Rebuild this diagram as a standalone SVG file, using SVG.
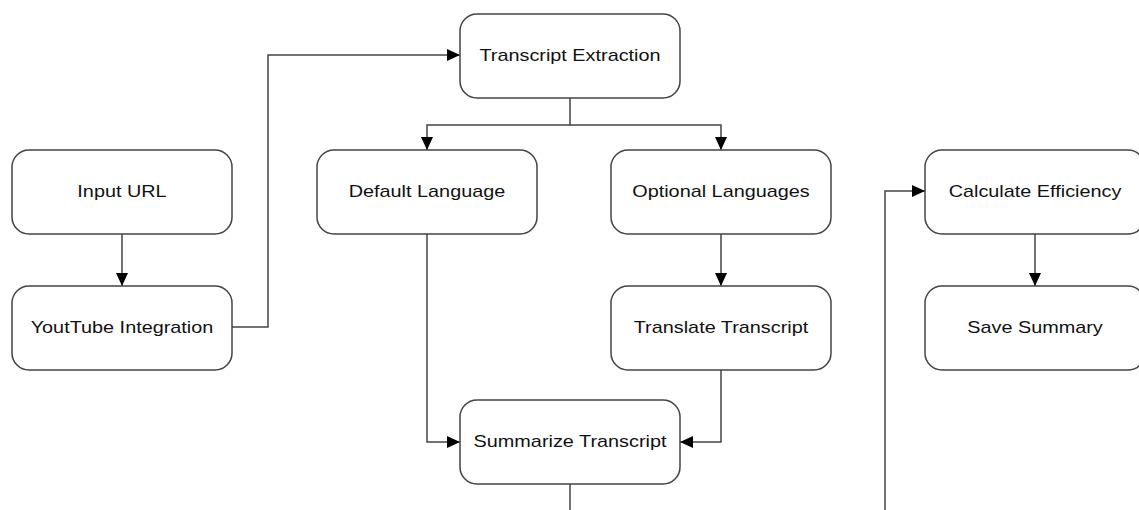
<svg xmlns="http://www.w3.org/2000/svg" width="1139" height="510" viewBox="0 0 1139 510">
<defs>
<style>
.node rect{fill:#ffffff;stroke:#444444;stroke-width:1.5}
.node text{font-family:"Liberation Sans",Arial,sans-serif;font-size:16px;fill:#111111;text-anchor:middle}
.edges path{fill:none;stroke:#444444;stroke-width:1.5}
</style>
<marker id="arr" viewBox="0 0 13 12" refX="13" refY="6" markerWidth="13" markerHeight="12" markerUnits="userSpaceOnUse" orient="auto">
<path d="M0,0 L13,6 L0,12 Z" fill="#000000"/>
</marker>
</defs>
<rect width="1139" height="510" fill="#ffffff"/>
<g class="edges">
<path d="M122,234 V286" marker-end="url(#arr)"/>
<path d="M232,327 H268 V55 H460" marker-end="url(#arr)"/>
<path d="M570,98 V125 H427 V150" marker-end="url(#arr)"/>
<path d="M570,125 H721 V150" marker-end="url(#arr)"/>
<path d="M721,234 V286" marker-end="url(#arr)"/>
<path d="M427,234 V442 H460" marker-end="url(#arr)"/>
<path d="M721,370 V442 H680" marker-end="url(#arr)"/>
<path d="M570,484 V510"/>
<path d="M885,510 V191 H925" marker-end="url(#arr)"/>
<path d="M1035,234 V286" marker-end="url(#arr)"/>
</g>
<g id="input-url" class="node"><rect x="12" y="150" width="220" height="84" rx="17"/><text transform="translate(122,197) scale(1.24,1)">Input URL</text></g>
<g id="youtube-integration" class="node"><rect x="12" y="286" width="220" height="84" rx="17"/><text transform="translate(122,333) scale(1.24,1)">YoutTube Integration</text></g>
<g id="transcript-extraction" class="node"><rect x="460" y="14" width="220" height="84" rx="17"/><text transform="translate(570,61) scale(1.24,1)">Transcript Extraction</text></g>
<g id="default-language" class="node"><rect x="317" y="150" width="220" height="84" rx="17"/><text transform="translate(427,197) scale(1.24,1)">Default Language</text></g>
<g id="optional-languages" class="node"><rect x="611" y="150" width="220" height="84" rx="17"/><text transform="translate(721,197) scale(1.24,1)">Optional Languages</text></g>
<g id="translate-transcript" class="node"><rect x="611" y="286" width="220" height="84" rx="17"/><text transform="translate(721,333) scale(1.24,1)">Translate Transcript</text></g>
<g id="summarize-transcript" class="node"><rect x="460" y="400" width="220" height="84" rx="17"/><text transform="translate(570,447) scale(1.24,1)">Summarize Transcript</text></g>
<g id="calculate-efficiency" class="node"><rect x="925" y="150" width="220" height="84" rx="17"/><text transform="translate(1035,197) scale(1.24,1)">Calculate Efficiency</text></g>
<g id="save-summary" class="node"><rect x="925" y="286" width="220" height="84" rx="17"/><text transform="translate(1035,333) scale(1.24,1)">Save Summary</text></g>
</svg>
